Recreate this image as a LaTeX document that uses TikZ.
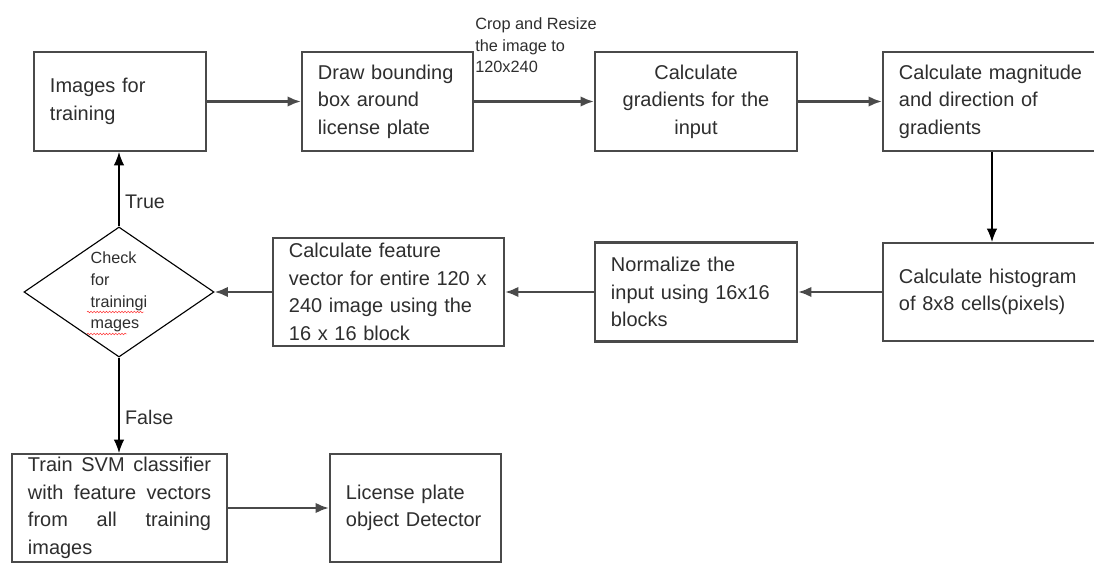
\documentclass[tikz,border=0pt]{standalone}
\usepackage{fontspec}
\setmainfont{Liberation Sans}
\usetikzlibrary{shapes.geometric,arrows.meta,calc,decorations.pathmorphing}
\definecolor{boxline}{HTML}{4A4A4A}
\definecolor{boxtext}{HTML}{2E2E2E}
\tikzset{
  stepbox/.style={draw=boxline, line width=1.5pt, fill=white, text=boxtext, rectangle, align=left,
    inner xsep=0.4cm, inner ysep=0pt, minimum height=2.475cm, font=\fontsize{14.2pt}{19.6pt}\selectfont},
  decision/.style={diamond, draw=black, line width=0.8pt, fill=white, text=boxtext, aspect=1.46,
    inner sep=0pt, minimum width=4.75cm, minimum height=3.25cm, align=left,
    font=\fontsize{11.5pt}{15.4pt}\selectfont},
  flow/.style={draw=boxline, line width=1.7pt, -{Latex[length=9.5pt,width=7.5pt]}},
  thinflow/.style={draw=black, line width=0.8pt, -{Latex[length=9.5pt,width=7.5pt]}},
  answer/.style={anchor=west, text=boxtext, inner xsep=4pt, font=\fontsize{14pt}{17pt}\selectfont},
  spellwave/.style={draw=red!80, line width=0.35pt, decorate, decoration={snake, segment length=2.2pt, amplitude=0.6pt}}
}
\begin{document}
\begin{tikzpicture}[x=0.025cm,y=-0.025cm]
\clip (0,0) rectangle (1094,563);
		% top row
		\node[stepbox, text width=3.5cm] (img) at (120,101.5) {Images for\\training};
		\node[stepbox, text width=3.475cm] (bbox) at (387.5,101.5) {Draw bounding\\box around\\license plate};
		\node[stepbox, text width=4.25cm, align=center] (grad) at (696,101.5) {Calculate\\gradients for the\\input};
		\node[stepbox, text width=4.65cm] (magn) at (992,101.5) {Calculate magnitude\\and direction of\\gradients};
		\node[font=\fontsize{11.6pt}{15.6pt}\selectfont, text=boxtext, align=left, anchor=north west, inner sep=0pt]
			(croplbl) at (475,17) {Crop and Resize\\the image to\\120x240};
		% middle row
		\node[stepbox, text width=4.65cm, minimum height=2.45cm] (hist) at (992,292) {Calculate histogram\\of 8x8 cells(pixels)};
		\node[stepbox, text width=4.25cm] (norm) at (696,292) {Normalize the\\input using 16x16\\blocks};
		\node[stepbox, text width=4.975cm, minimum height=2.7cm] (feat) at (388.5,292) {Calculate feature\\vector for entire 120 x\\240 image using the\\16 x 16 block};
		\node[decision] (chk) at (119,292) {Check\\for\\trainingi\\mages};
		\draw[spellwave] ($(chk.center)+(-32,20)$) -- ($(chk.center)+(25,20)$);
		\draw[spellwave] ($(chk.center)+(-32,42)$) -- ($(chk.center)+(8,42)$);
		% bottom row
		\node[stepbox, text width=4.575cm, minimum height=2.7cm] (svm) at (119.5,508) {Train\hfill SVM\hfill classifier\\with\hfill feature\hfill vectors\\from\hfill all\hfill training\\images};
		\node[stepbox, text width=3.475cm, minimum height=2.7cm] (det) at (415.5,508) {License plate\\object Detector};
		% connectors
		\draw[flow] (img) -- (bbox);
		\draw[flow] (bbox) -- (grad);
		\draw[flow] (grad) -- (magn);
		\draw[thinflow] (magn) -- (hist);
		\draw[flow] (hist) -- (norm);
		\draw[flow] (norm) -- (feat);
		\draw[flow] (feat) -- (chk);
		\draw[thinflow] (chk.north) -- (chk.north |- img.south) node[answer, pos=0.33] {True};
		\draw[thinflow] (chk.south) -- (chk.south |- svm.north) node[answer, pos=0.63] {False};
		\draw[flow] (svm) -- (det);
\end{tikzpicture}
\end{document}
